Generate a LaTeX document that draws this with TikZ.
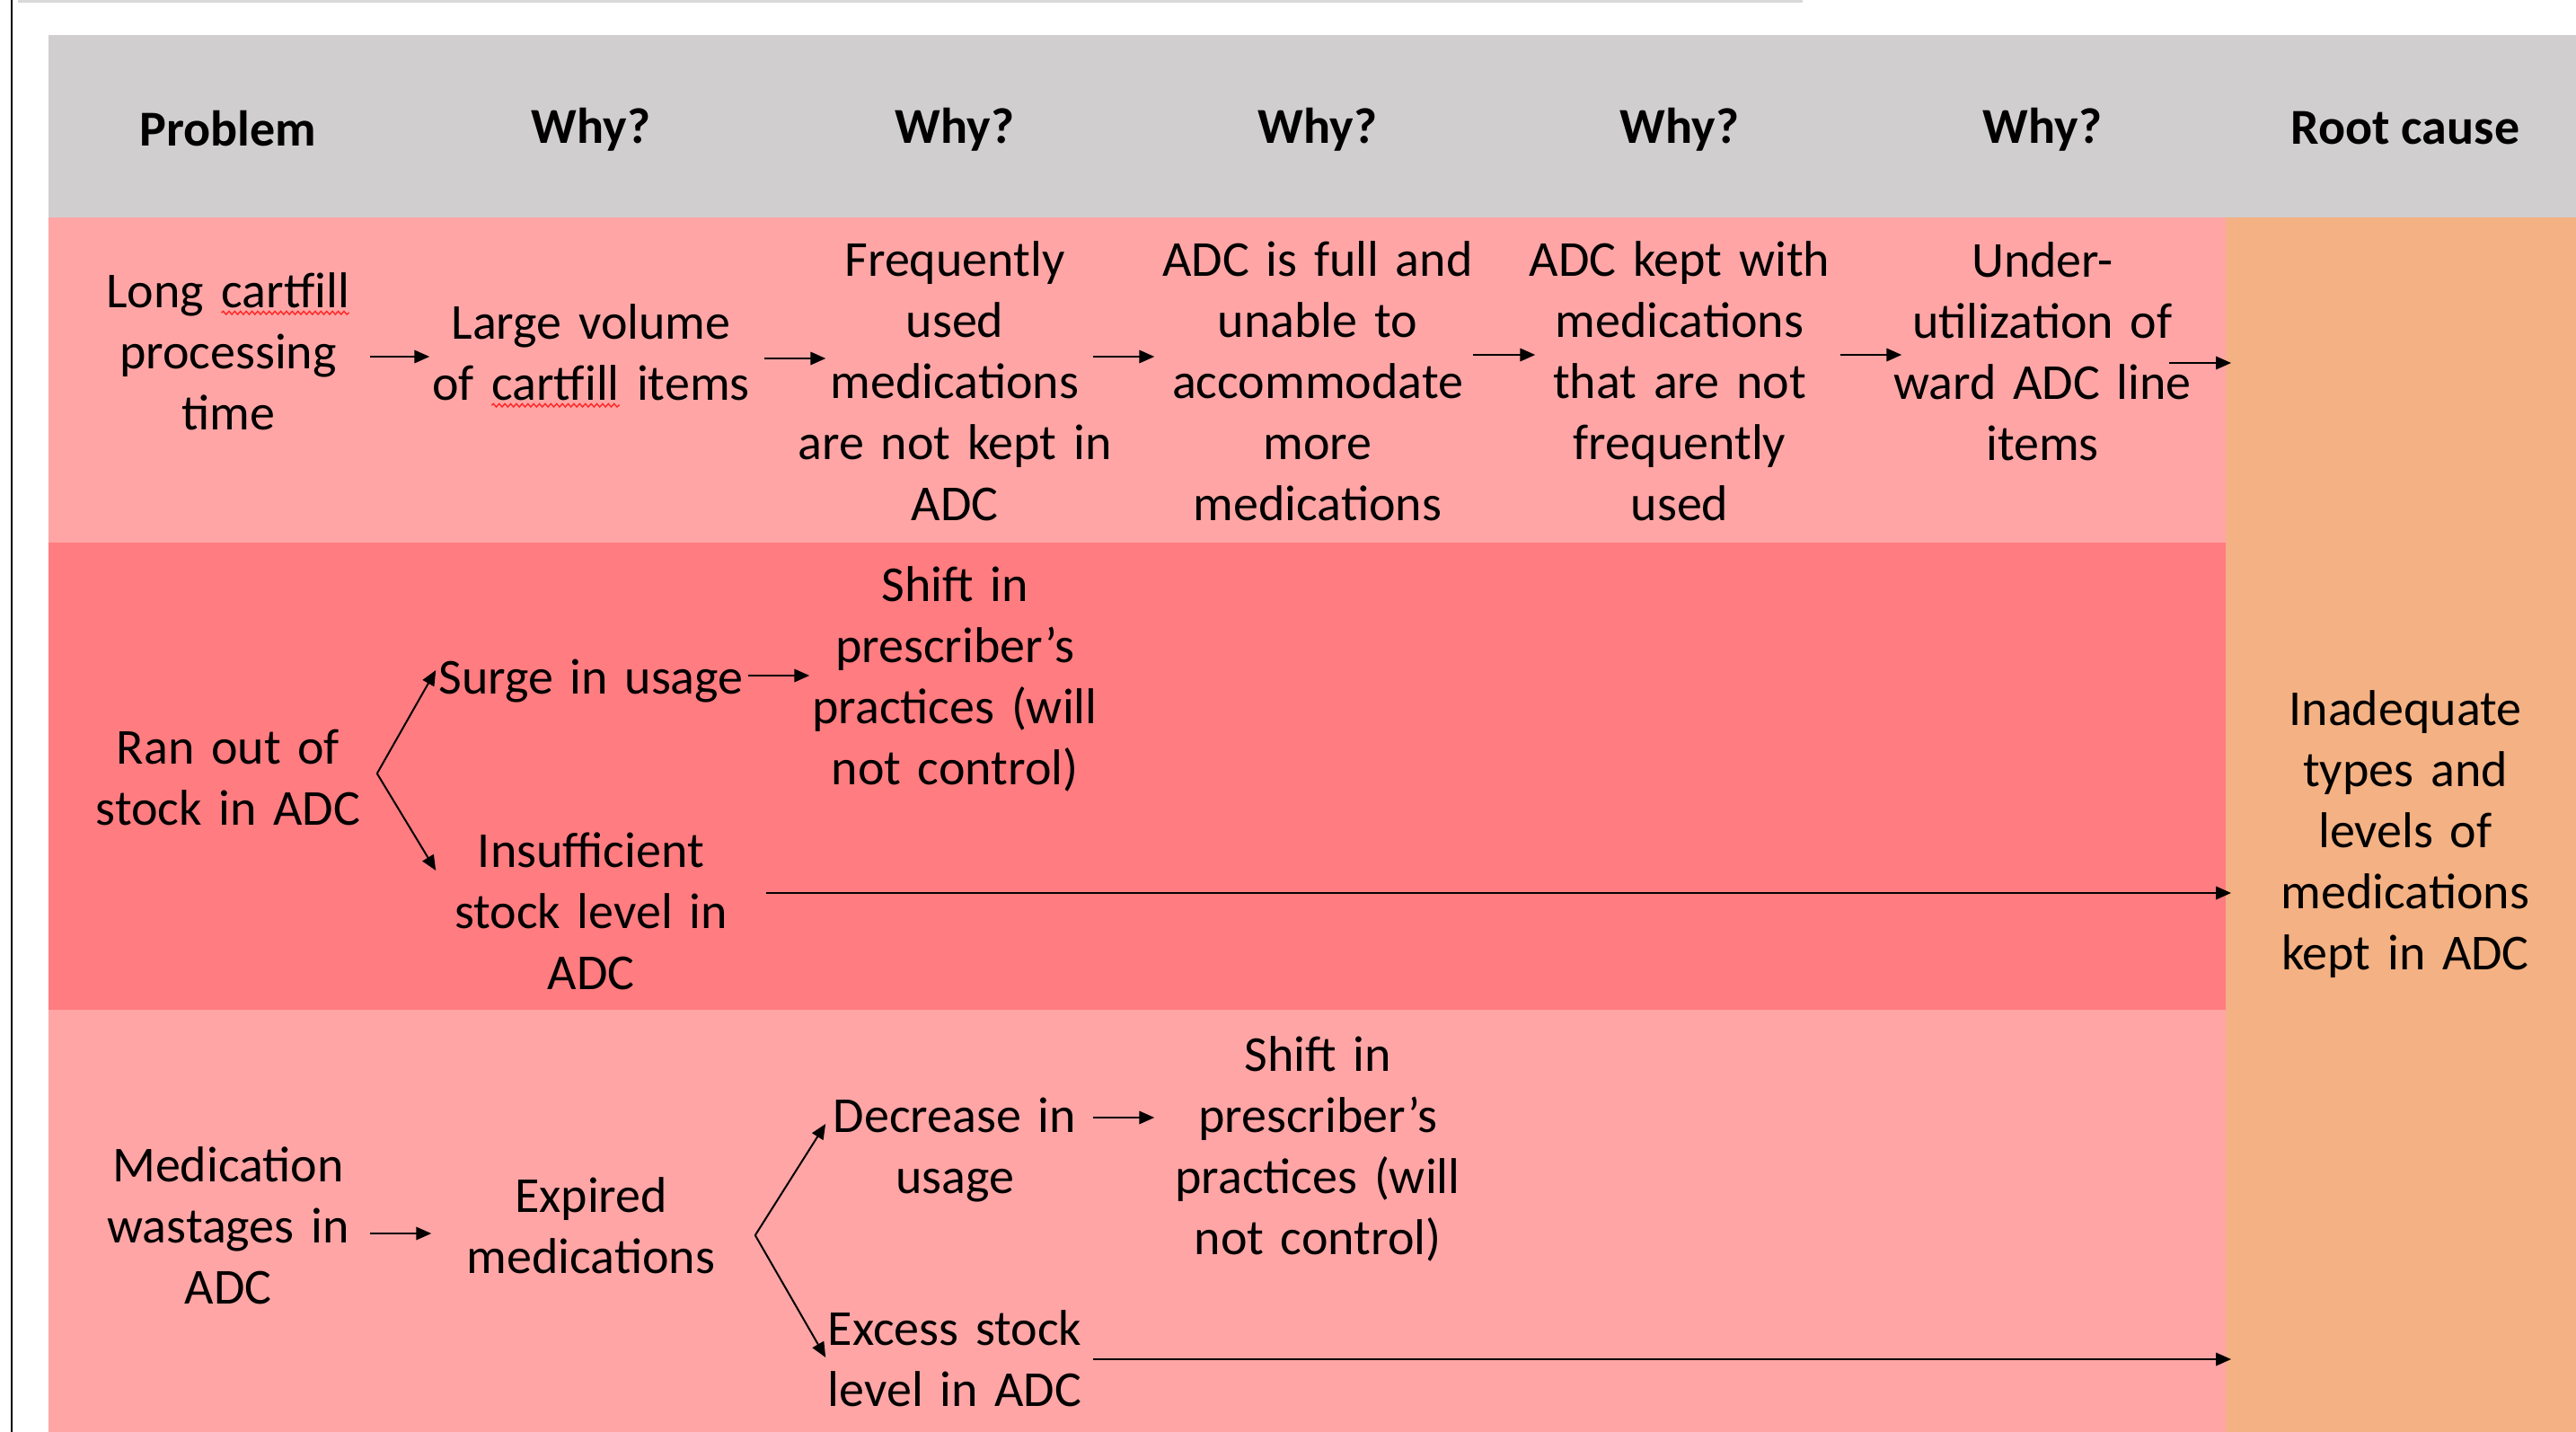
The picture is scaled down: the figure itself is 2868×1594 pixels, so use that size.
\documentclass[tikz,border=0pt]{standalone}
\usepackage{fontspec}
\setmainfont{Carlito}
\usetikzlibrary{arrows.meta,decorations.pathmorphing}
\definecolor{hdr}{HTML}{D0CECE}
\definecolor{lpink}{HTML}{FFA5A5}
\definecolor{dpink}{HTML}{FF7C80}
\definecolor{orng}{HTML}{F4B183}
\newcommand\spellwave[1]{\tikz[baseline=(sw.base)]{\node[inner sep=0pt,outer sep=0pt] (sw) {#1};\draw[red!85,line width=0.35pt,decorate,decoration={snake,amplitude=0.45pt,segment length=1.6pt}] ([yshift=-1.5pt]sw.base west) -- ([yshift=-1.5pt]sw.base east);}}
\begin{document}
\begin{tikzpicture}[x=0.25pt,y=-0.25pt,
  txt/.style={align=center, text width=90pt, inner sep=0pt, font=\fontsize{14}{17}\selectfont},
  hd/.style={font=\fontsize{14}{17}\selectfont\bfseries, inner sep=0pt},
  arr/.style={line width=0.5pt, -{Triangle[length=4.2pt,width=3.6pt]}}]

\useasboundingbox (0,0) rectangle (2868,1594);
\fill[white] (0,0) rectangle (2868,1594);

% frame remnants
\draw[gray!30, line width=1pt] (20,1.5) -- (2007,1.5);
\draw[line width=0.45pt] (13,0) -- (13,1594);

% table background
\fill[hdr] (54,39) rectangle (2868,242);
\fill[lpink] (54,242) rectangle (2478,604);
\fill[dpink] (54,604) rectangle (2478,1124);
\fill[lpink] (54,1124) rectangle (2478,1594);
\node[fill=orng, inner sep=0pt, outer sep=0pt, anchor=north west,
      minimum width=97.5pt, minimum height=338pt] (rootcell) at (2478,242) {};

% header
\node[hd] (h0) at (254,143) {Problem};
\node[hd] (h1) at (658,144) {Why?};
\node[hd] (h2) at (1063,144) {Why?};
\node[hd] (h3) at (1467,144) {Why?};
\node[hd] (h4) at (1870,144) {Why?};
\node[hd] (h5) at (2274,144) {Why?};
\node[hd] (h6) at (2678,143) {Root cause};

% row 1
\node[txt] (p1) at (254,391) {Long \spellwave{cartfill}\\processing\\time};
\node[txt] (w11) at (658,396) {Large volume\\of \spellwave{cartfill} items};
\node[txt] (w12) at (1063,424) {Frequently\\used\\medications\\are not kept in\\ADC};
\node[txt] (w13) at (1467,424) {ADC is full and\\unable to\\accommodate\\more\\medications};
\node[txt] (w14) at (1870,424) {ADC kept with\\medications\\that are not\\frequently\\used};
\node[txt] (w15) at (2274,391) {Under-\\utilization of\\ward ADC line\\items};

% row 2
\node[txt] (p2) at (254,866) {Ran out of\\stock in ADC};
\node[txt] (s2) at (658,758) {Surge in usage};
\node[txt] (sh2) at (1063,756) {Shift in\\prescriber’s\\practices (will\\not control)};
\node[txt] (i2) at (658,1014) {Insufficient\\stock level in\\ADC};

% row 3
\node[txt] (p3) at (254,1364) {Medication\\wastages in\\ADC};
\node[txt] (e3) at (658,1364) {Expired\\medications};
\node[txt] (d3) at (1063,1280) {Decrease in\\usage};
\node[txt] (sh3) at (1467,1279) {Shift in\\prescriber’s\\practices (will\\not control)};
\node[txt] (x3) at (1063,1512) {Excess stock\\level in ADC};

% root cause
\node[txt] (rc) at (2678,929) {Inadequate\\types and\\levels of\\medications\\kept in ADC};

% row 1 arrows
\draw[arr] ([xshift=-5.75pt]p1.east |- 0,397) -- ([xshift=0.25pt]w11.west |- 0,397);
\draw[arr] ([xshift=3pt]w11.east |- 0,399) -- ([xshift=9.25pt]w12.west |- 0,399);
\draw[arr] ([xshift=-6.75pt]w12.east |- 0,397) -- ([xshift=-0.25pt]w13.west |- 0,397);
\draw[arr] ([xshift=-2pt]w13.east |- 0,395) -- ([xshift=5pt]w14.west |- 0,395);
\draw[arr] ([xshift=-0.5pt]w14.east |- 0,395) -- ([xshift=6pt]w15.west |- 0,395);
\draw[arr] ([xshift=-10pt]w15.east |- 0,404) -- ([xshift=1.5pt]rootcell.west |- 0,404);

% row 2 arrows
\draw[arr] ([xshift=-3.75pt]p2.east |- 0,861) -- ([xshift=2pt]s2.west |- 0,746);
\draw[arr] ([xshift=-3.75pt]p2.east |- 0,861) -- ([xshift=2pt]i2.west |- 0,969);
\draw[arr] ([xshift=-1.5pt]s2.east |- 0,752) -- ([xshift=4.75pt]sh2.west |- 0,752);
\draw[arr] ([xshift=3.5pt]i2.east |- 0,994) -- ([xshift=1.5pt]rootcell.west |- 0,994);

% row 3 arrows
\draw[arr] ([xshift=-5.75pt]p3.east |- 0,1373) -- ([xshift=0.75pt]e3.west |- 0,1373);
\draw[arr] ([xshift=0.5pt]e3.east |- 0,1375) -- ([xshift=9.25pt]d3.west |- 0,1251);
\draw[arr] ([xshift=0.5pt]e3.east |- 0,1375) -- ([xshift=9.25pt]x3.west |- 0,1511);
\draw[arr] ([xshift=-6.75pt]d3.east |- 0,1244) -- ([xshift=-0.25pt]sh3.west |- 0,1244);
\draw[arr] ([xshift=-6.75pt]x3.east |- 0,1513) -- ([xshift=1.5pt]rootcell.west |- 0,1513);
\end{tikzpicture}
\end{document}
